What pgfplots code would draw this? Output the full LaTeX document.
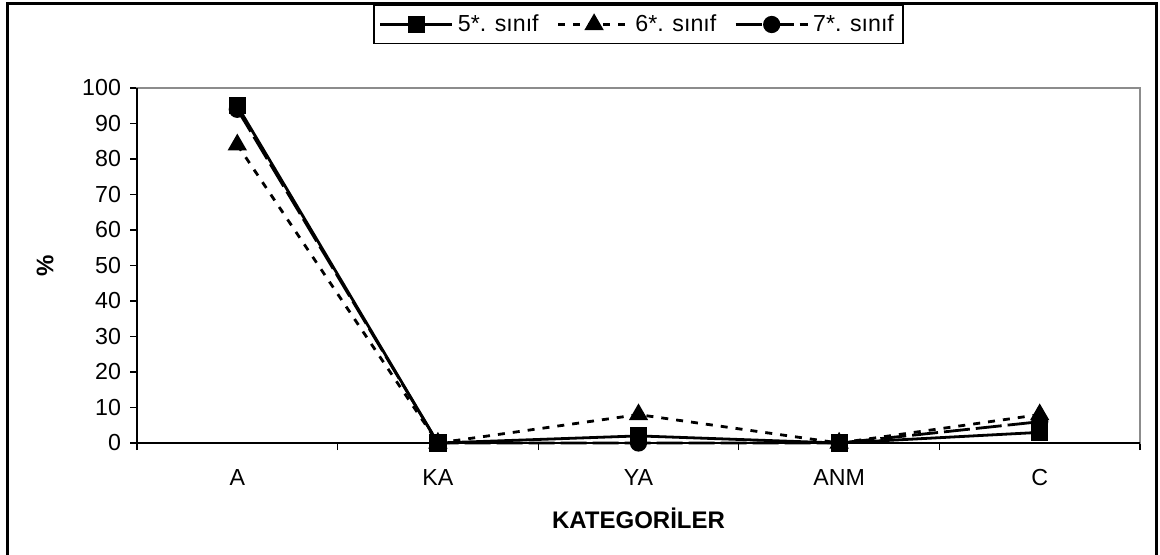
\documentclass[border=0pt]{standalone}
\usepackage{pgfplots}
\pgfplotsset{compat=1.18}
\usepackage{fontspec}
\setmainfont{Liberation Sans}
\begin{document}
\begin{tikzpicture}
\useasboundingbox (0pt,0pt) rectangle (580pt,277pt);
\begin{axis}[
  at={(68.5pt,55.5pt)}, anchor=south west,
  scale only axis, width=501.5pt, height=177.5pt,
  xmin=-0.5, xmax=4.5, ymin=0, ymax=100,
  xtick={0,1,2,3,4},
  xticklabels={A,KA,YA,ANM,C},
  minor xtick={-0.5,0.5,1.5,2.5,3.5,4.5},
  major x tick style={draw=none},
  ytick={0,10,...,100},
  tick align=outside, xtick pos=bottom, ytick pos=left,
  major tick length=3.5pt, minor tick length=3.5pt,
  tick style={black, line width=0.6pt},
  axis line style={draw=gray!90, line width=0.8pt},
  every tick label/.append style={font=\fontsize{11.6}{13}\selectfont},
  /pgf/number format/assume math mode=true,
  xticklabel style={yshift=-6pt},
  yticklabel style={xshift=-1pt},
  clip=false,
  legend style={at={(0.5,1.2338)}, anchor=north, legend columns=3,
    draw=black, line width=0.6pt, font=\fontsize{11.6}{13}\selectfont,
    inner sep=2.5pt, /tikz/every even column/.append style={column sep=7pt}},
  legend image code/.code={
    \draw[#1, mark=none] (0pt,0pt) -- (36pt,0pt);
    \path[#1, solid] plot coordinates {(18pt,0pt)};
  },
]
\draw[black, line width=0.8pt] (rel axis cs:0,1) -- (rel axis cs:0,0) -- (rel axis cs:1,0);
\addplot[black, line width=1.4pt, mark=square*, mark size=3.6pt, mark options={solid}]
  coordinates {(0,95) (1,0) (2,2) (3,0) (4,3)};
\addplot[black, line width=1.4pt, dash pattern=on 3.5pt off 4pt, mark=triangle*, mark size=4.2pt, mark options={solid}]
  coordinates {(0,84) (1,0) (2,8) (3,0) (4,8)};
\addplot[black, line width=1.4pt, dash pattern=on 13pt off 3pt, mark=*, mark size=3.6pt, mark options={solid}]
  coordinates {(0,94) (1,0) (2,0) (3,0) (4,6)};
\legend{5*. sınıf, 6*. sınıf, 7*. sınıf}
\node[font=\fontsize{12}{14}\selectfont\bfseries] at ([yshift=-37.5pt]rel axis cs:0.5,0) {KATEGORİLER};
\node[rotate=90, font=\fontsize{12}{14}\selectfont\bfseries] at ([xshift=-46pt]rel axis cs:0,0.5) {\%};
\end{axis}
\draw[line width=1.5pt] (3.5pt,-5pt) -- (3.5pt,275.5pt) -- (578pt,275.5pt) -- (578pt,-5pt);
\end{tikzpicture}
\end{document}
